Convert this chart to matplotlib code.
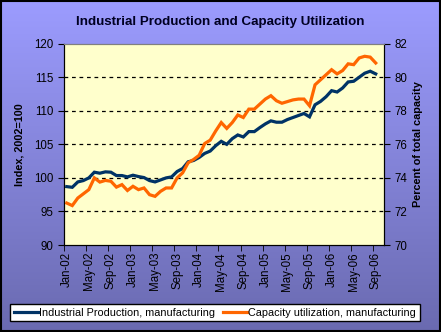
import numpy as np
import matplotlib.pyplot as plt
from matplotlib.patches import Rectangle

plt.rcParams['font.family'] = ['Liberation Sans', 'DejaVu Sans']

# monthly values, Jan-02 .. Sep-06
ip_mfg = [98.7, 98.6, 99.4, 99.6, 100.0, 100.85, 100.7, 100.9, 100.85, 100.35,
          100.35, 100.15, 100.4, 100.2, 100.05, 99.6, 99.4, 99.7, 100.0, 100.15,
          100.95, 101.4, 102.4, 102.6, 103.05, 103.65, 104.0, 104.8, 105.45, 105.0,
          105.85, 106.4, 106.1, 106.9, 106.9, 107.5, 108.05, 108.5, 108.3, 108.3,
          108.7, 109.0, 109.3, 109.6, 109.1, 110.9, 111.4, 112.1, 113.0, 112.8,
          113.4, 114.3, 114.4, 115.0, 115.6, 115.9, 115.5]
cu_mfg = [72.5, 72.35, 72.8, 73.05, 73.3, 74.0, 73.75, 73.85, 73.8, 73.45,
          73.6, 73.25, 73.5, 73.3, 73.4, 73.0, 72.9, 73.2, 73.4, 73.4,
          74.0, 74.3, 74.9, 75.1, 75.35, 76.05, 76.25, 76.8, 77.3, 76.95,
          77.3, 77.75, 77.6, 78.1, 78.1, 78.4, 78.7, 78.9, 78.6, 78.45,
          78.55, 78.65, 78.7, 78.7, 78.3, 79.55, 79.85, 80.15, 80.45, 80.2,
          80.4, 80.8, 80.75, 81.15, 81.25, 81.2, 80.85]
tick_labels = ['Jan-02', 'May-02', 'Sep-02', 'Jan-03', 'May-03', 'Sep-03', 'Jan-04',
               'May-04', 'Sep-04', 'Jan-05', 'May-05', 'Sep-05', 'Jan-06', 'May-06', 'Sep-06']
n_cats = 58  # axis has one empty category (Oct-06)

fig = plt.figure(figsize=(4.41, 3.32), dpi=100)

# gradient background
bg = fig.add_axes([0, 0, 1, 1], zorder=-10)
top = np.array([0x9C, 0x9C, 0xFF]) / 255
bot = np.array([0x6A, 0x6A, 0xB0]) / 255
t = np.linspace(0, 1, 256)[:, None]
grad = top + (bot - top) * t
bg.imshow(grad[:, None, :], aspect='auto', extent=[0, 1, 0, 1])
bg.axis('off')
fig.add_artist(Rectangle((0.002, 0.003), 0.995, 0.994, transform=fig.transFigure,
                         fill=False, edgecolor='black', lw=1.5))

ax = fig.add_axes([64/441, 1-245/332, 320/441, (245-43.7)/332])
ax.set_facecolor('#FFFFCC')
x = np.arange(len(ip_mfg))
ax.plot(x, ip_mfg, color='#003366', lw=2.3, solid_joinstyle='miter',
        label='Industrial Production, manufacturing')
ax.set_ylim(90, 120)
ax.set_yticks(range(90, 121, 5))
ax.set_xlim(-0.5, n_cats - 0.5)
ax.set_xticks(np.arange(0, 57, 4))
ax.set_xticklabels(tick_labels, rotation=90)
ax.set_xticks(np.arange(-0.5, 56, 4), minor=True)
ax.tick_params(axis='x', which='major', length=0, pad=5)
ax.tick_params(axis='x', which='minor', length=4, direction='out')
ax.tick_params(axis='y', length=4, direction='out')
ax.tick_params(labelsize=8.3, colors='black')
for v in range(95, 120, 5):
    ax.axhline(v, color='black', lw=0.9, ls=(0, (3, 3)), zorder=1)
ax.set_ylabel('Index, 2002=100', fontsize=7.8, fontweight='bold', labelpad=7)

ax2 = ax.twinx()
ax2.plot(x, cu_mfg, color='#FF6600', lw=2.3, solid_joinstyle='miter',
         label='Capacity utilization, manufacturing')
ax2.set_ylim(70, 82)
ax2.set_yticks(range(70, 83, 2))
ax2.tick_params(axis='y', length=4, direction='out', labelsize=8.3)
ax2.set_ylabel('Percent of total capacity', fontsize=7.8, fontweight='bold', labelpad=4)

for a in (ax, ax2):
    a.spines['top'].set_color('#808080')
    a.spines['left'].set_color('black')
    a.spines['right'].set_color('black')
    a.spines['bottom'].set_color('black')

fig.text(0.5, 1 - 22.5/332, 'Industrial Production and Capacity Utilization',
         ha='center', va='center', fontsize=9.6, fontweight='bold', color='#000022')

h1, l1 = ax.get_legend_handles_labels()
h2, l2 = ax2.get_legend_handles_labels()
leg = fig.legend(h1 + h2, l1 + l2, loc='center', ncol=2,
                 bbox_to_anchor=(215/441, 1 - 312.5/332), fontsize=7.8,
                 frameon=True, fancybox=False, edgecolor='black', framealpha=1,
                 handlelength=2.2, handletextpad=0.1, columnspacing=0.8,
                 borderpad=0.35, borderaxespad=0)
leg.get_frame().set_linewidth(1.0)

fig.savefig('out.png', dpi=100)
